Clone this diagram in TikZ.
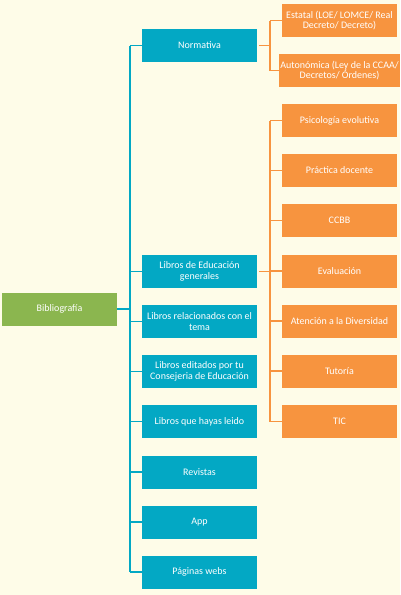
\documentclass[tikz,border=0pt]{standalone}
\usepackage{fontspec}
\setmainfont{Carlito}
\usepackage{xcolor}
\usepackage{tikz}
\usetikzlibrary{calc,positioning}

\definecolor{fondo}{HTML}{FEFCE8}
\definecolor{azul}{HTML}{03A8C4}
\definecolor{naranja}{HTML}{F7943F}
\definecolor{verde}{HTML}{8BB64F}

\begin{document}
\begin{tikzpicture}[x=1pt,y=-1pt]
\tikzstyle{caja}=[rectangle,minimum width=115pt,minimum height=33pt,inner sep=1pt,
                  align=center,text=white,font=\fontsize{10}{10.5}\selectfont]
\tikzstyle{azulbox}=[caja,fill=azul]
\tikzstyle{naranjabox}=[caja,fill=naranja]
\tikzstyle{verdebox}=[caja,fill=verde]
\tikzstyle{azulline}=[draw=azul,line width=1.5pt]
\tikzstyle{naranjaline}=[draw=naranja,line width=1.5pt]

\fill[fondo] (0,0) rectangle (400,595);
\useasboundingbox (0,0) rectangle (400,595);

% --- raiz ---
\node[verdebox] (biblio) at (59.5,309) {Bibliografía};

% --- primer nivel ---
\node[azulbox] (norma)   at (199.5,45.5)  {Normativa};
\node[azulbox] (libgen)  at (199.5,271.5) {Libros de Educación\\generales};
\node[azulbox] (librel)  at (199.5,321.5) {Libros relacionados con el\\tema};
\node[azulbox] (libedit) at (199.5,371.5) {Libros editados por tu\\Consejeria de Educación};
\node[azulbox] (libleid) at (199.5,421.5) {Libros que hayas leido};
\node[azulbox] (revis)   at (199.5,472)   {Revistas};
\node[azulbox] (app)     at (199.5,522)   {App};
\node[azulbox] (webs)    at (199.5,572)   {Páginas webs};

% --- normativa ---
\node[naranjabox] (estatal) at (339.5,20.5) {Estatal (LOE/ LOMCE/ Real\\Decreto/ Decreto)};
\node[naranjabox] (autonom) at (339.5,70.5) {Autonómica (Ley de la CCAA/\\Decretos/ Órdenes)};

% --- libros de educacion generales ---
\node[naranjabox] (psico) at (339.5,120.5) {Psicología evolutiva};
\node[naranjabox] (pract) at (339.5,170.5) {Práctica docente};
\node[naranjabox] (ccbb)  at (339.5,220.5) {CCBB};
\node[naranjabox] (eval)  at (339.5,271)   {Evaluación};
\node[naranjabox] (atenc) at (339.5,321)   {Atención a la Diversidad};
\node[naranjabox] (tutor) at (339.5,371)   {Tutoría};
\node[naranjabox] (tic)   at (339.5,421.5) {TIC};

% --- conectores ---
\coordinate (troncoA) at (130,309);
\coordinate (troncoB) at (270,45.5);
\coordinate (troncoC) at (270,271.5);

\draw[azulline] (biblio.east) -- (troncoA);
\draw[azulline] (troncoA |- norma.west) -- (troncoA |- webs.west);
\foreach \n in {norma,libgen,librel,libedit,libleid,revis,app,webs}
  \draw[azulline] (troncoA |- \n.west) -- (\n.west);

\draw[naranjaline] ([xshift=2pt]norma.east) -- (troncoB);
\draw[naranjaline] (troncoB |- estatal.west) -- (troncoB |- autonom.west);
\foreach \n in {estatal,autonom}
  \draw[naranjaline] (troncoB |- \n.west) -- (\n.west);

\draw[naranjaline] ([xshift=2pt]libgen.east) -- (troncoC);
\draw[naranjaline] (troncoC |- psico.west) -- (troncoC |- tic.west);
\foreach \n in {psico,pract,ccbb,eval,atenc,tutor,tic}
  \draw[naranjaline] (troncoC |- \n.west) -- (\n.west);

\end{tikzpicture}
\end{document}
